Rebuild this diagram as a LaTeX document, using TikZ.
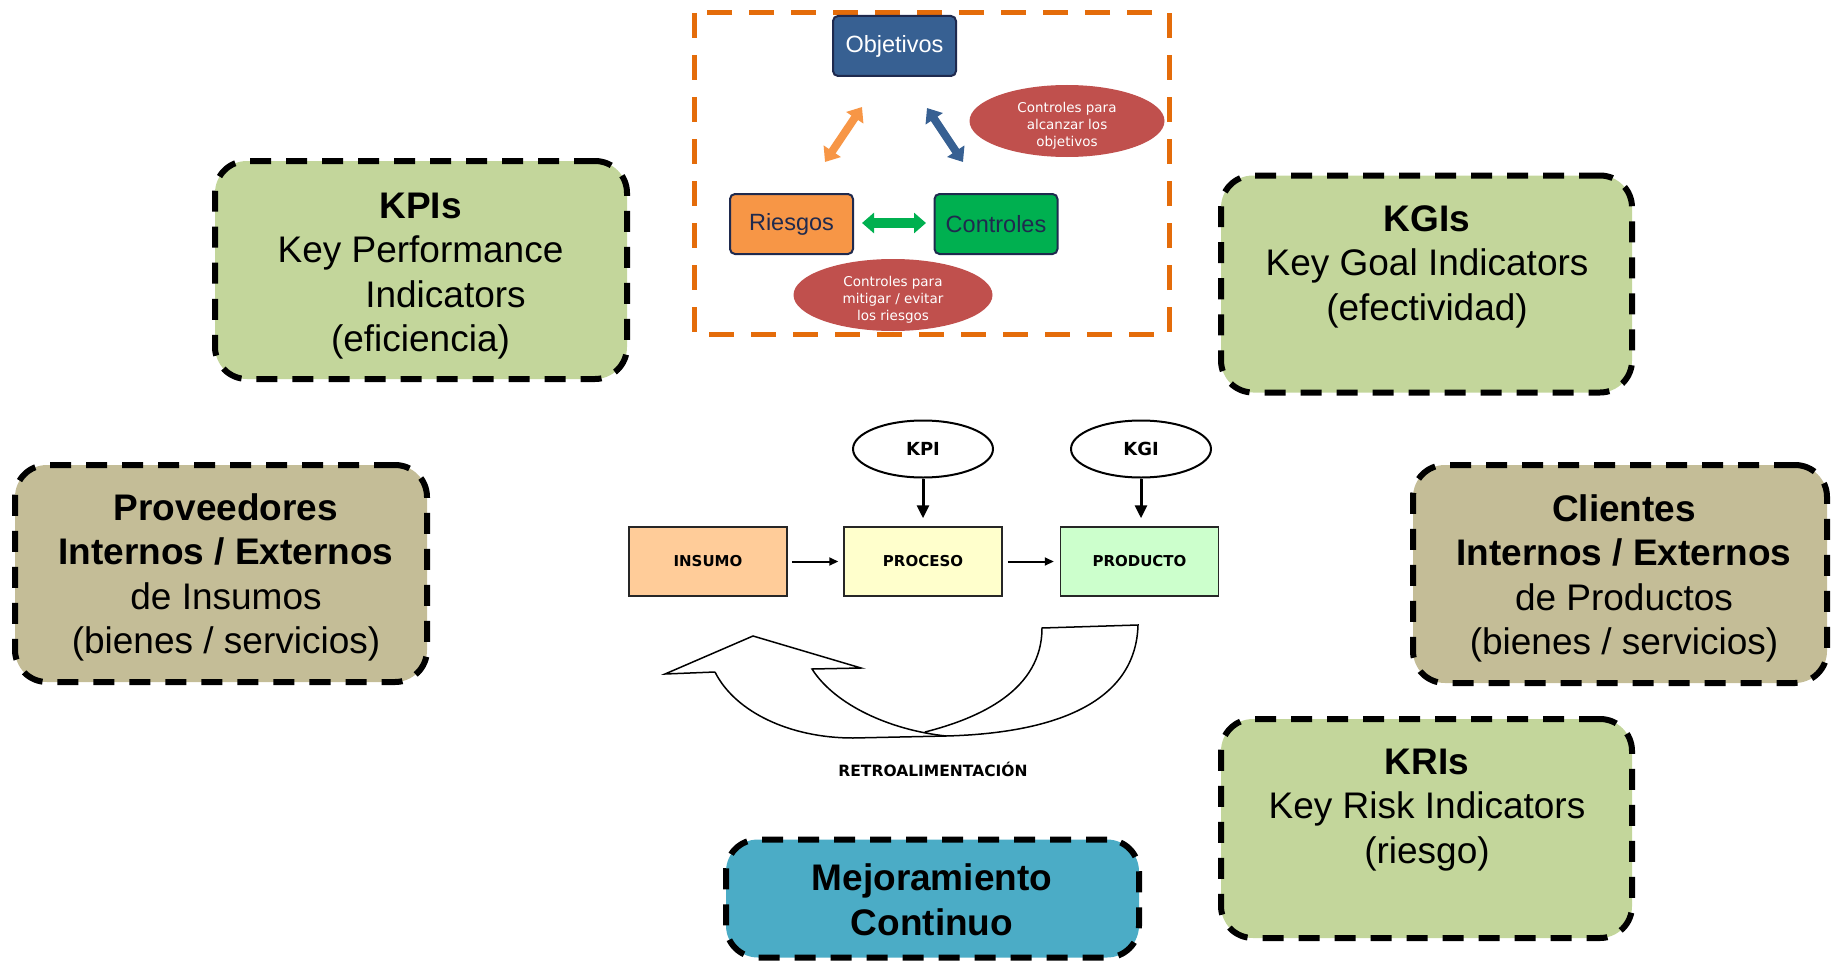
\documentclass[tikz,border=0pt]{standalone}
\usepackage{fontspec}
\setmainfont{Liberation Sans}
\newfontfamily\verdanalike{DejaVu Sans}
\usetikzlibrary{shapes.geometric,arrows.meta,calc}

\definecolor{kgreen}{HTML}{C3D69B}
\definecolor{ktan}{HTML}{C4BD97}
\definecolor{kteal}{HTML}{4BACC6}
\definecolor{frameorange}{HTML}{E46C0A}
\definecolor{objblue}{HTML}{376092}
\definecolor{riskorange}{HTML}{F79646}
\definecolor{ctrlgreen}{HTML}{00B050}
\definecolor{notered}{HTML}{C0504D}
\definecolor{navy}{HTML}{1F2A4E}
\definecolor{insumofill}{HTML}{FFCC99}
\definecolor{procesofill}{HTML}{FFFFCC}
\definecolor{productofill}{HTML}{CCFFCC}

\begin{document}
\begin{tikzpicture}[x=1pt,y=-1pt,
  bigbox/.style={draw=black, line width=6pt, dash pattern=on 21pt off 15pt,
    rounded corners=32pt, inner sep=0pt},
  bigtext/.style={align=center, inner sep=0pt, font=\fontsize{37}{44.5}\selectfont},
  tribox/.style={draw=navy, line width=2pt, rounded corners=5pt, inner sep=0pt,
    minimum width=123pt, minimum height=60pt, font=\fontsize{23.5}{28}\selectfont},
  note/.style={ellipse, fill=notered, inner sep=0pt},
  notetext/.style={text=white, inner sep=0pt, align=center,
    font=\verdanalike\fontsize{13.5}{17}\selectfont},
  pbox/.style={draw=black!85, line width=1.5pt, minimum width=158pt, minimum height=69pt,
    inner sep=0pt, font=\verdanalike\bfseries\fontsize{15}{18}\selectfont},
  pell/.style={ellipse, draw=black, line width=2pt, fill=white, minimum width=140pt,
    minimum height=57pt, inner sep=0pt, font=\verdanalike\bfseries\fontsize{18}{21}\selectfont},
  downarrow/.style={line width=3pt, -{Triangle[width=12pt,length=13pt]}},
  flowarrow/.style={line width=2pt, -{Triangle[width=8pt,length=9pt]}},
  fbarrow/.style={draw=black, line width=1.5pt, line join=miter}
]
\useasboundingbox (0,0) rectangle (1835,963);

% ---------- outer indicator boxes ----------
\node[bigbox, fill=kgreen, minimum width=412pt, minimum height=218pt] (kpis) at (421,270) {};
\node[bigtext] (kpis-t) at (420.5,275.85)
  {\strut\textbf{KPIs}\\\strut Key Performance\\\strut\hspace*{50pt}Indicators\\\strut(eficiencia)};

\node[bigbox, fill=kgreen, minimum width=411pt, minimum height=217pt] (kgis) at (1426.5,284) {};
\node[bigtext] (kgis-t) at (1427,266.6)
  {\strut\textbf{KGIs}\\\strut Key Goal Indicators\\\strut(efectividad)};

\node[bigbox, fill=ktan, minimum width=412pt, minimum height=217pt] (prov) at (221,573.5) {};
\node[bigtext] (prov-t) at (226,577.85)
  {\strut\textbf{Proveedores}\\\strut\textbf{Internos / Externos}\\\strut de Insumos\\\strut(bienes / servicios)};

\node[bigbox, fill=ktan, minimum width=414pt, minimum height=218pt] (cli) at (1620,574) {};
\node[bigtext] (cli-t) at (1624,578.85)
  {\strut\textbf{Clientes}\\\strut\textbf{Internos / Externos}\\\strut de Productos\\\strut(bienes / servicios)};

\node[bigbox, fill=kgreen, minimum width=411pt, minimum height=219pt] (kris) at (1426.5,828.5) {};
\node[bigtext] (kris-t) at (1427,809.6)
  {\strut\textbf{KRIs}\\\strut Key Risk Indicators\\\strut(riesgo)};

\node[bigbox, fill=kteal, minimum width=413pt, minimum height=118pt] (mejora) at (932.5,898.5) {};
\node[bigtext] (mejora-t) at (932,903.85)
  {\strut\textbf{Mejoramiento}\\\strut\textbf{Continuo}};

% ---------- objectives / risks / controls triangle ----------
\draw[frameorange, line width=5pt, dash pattern=on 25pt off 17pt] (694,13) rectangle (1169,334);

\node[tribox, fill=objblue, text=white] (obj) at (894.5,46) {\raisebox{-1.5pt}{Objetivos}};
\node[tribox, fill=riskorange, text=navy] (ries) at (791.5,224) {Riesgos};
\node[tribox, fill=ctrlgreen, text=navy] (ctrl) at (996,224) {Controles};

\node[note, minimum width=195pt, minimum height=72pt] (note-obj) at (1067,121) {};
\node[notetext] (note-obj-t) at (1067,125.5) {Controles para\\alcanzar los\\objetivos};
\node[note, minimum width=199pt, minimum height=72pt] (note-ries) at (893,295) {};
\node[notetext] (note-ries-t) at (893,300) {Controles para\\mitigar / evitar\\los riesgos};

\coordinate (ro-a) at (825,162);
\coordinate (ro-b) at (862,107);
\coordinate (oc-a) at (927,108);
\coordinate (oc-b) at (963,162);
\coordinate (rc-a) at (862,223);
\coordinate (rc-b) at (926,223);
\draw[riskorange, line width=8pt, {Triangle[width=20pt,length=13pt]}-{Triangle[width=20pt,length=13pt]}] (ro-a) -- (ro-b);
\draw[objblue, line width=8pt, {Triangle[width=20pt,length=13pt]}-{Triangle[width=20pt,length=13pt]}] (oc-a) -- (oc-b);
\draw[ctrlgreen, line width=10pt, {Triangle[width=20pt,length=12pt]}-{Triangle[width=20pt,length=12pt]}] (rc-a) -- (rc-b);

% ---------- process chain ----------
\node[pbox, fill=insumofill] (insumo) at (708,561.5) {INSUMO};
\node[pbox, fill=procesofill] (proceso) at (923,561.5) {PROCESO};
\node[pbox, fill=productofill] (producto) at (1139.5,561.5) {\raisebox{-1.5pt}{PRODUCTO}};

\node[pell] (kpiE) at (923,449) {KPI};
\node[pell] (kgiE) at (1141,449) {KGI};

\draw[downarrow, shorten >=8pt] (kpiE) -- (kpiE |- proceso.north);
\draw[downarrow, shorten >=8pt] (kgiE) -- (kgiE |- producto.north);
\draw[flowarrow, shorten <=4pt, shorten >=5pt] (insumo) -- (proceso);
\draw[flowarrow, shorten <=5pt, shorten >=6pt] (proceso) -- (producto);

% ---------- feedback curved arrow ----------
\draw[fbarrow] (715,672) -- (665,674) -- (753,636) -- (861,668) -- (812,669)
  .. controls (835,705) and (890,730) .. (946,736)
  .. controls (1060,733) and (1136,700) .. (1138,625)
  -- (1042,628)
  .. controls (1042,690) and (980,718) .. (925,732);
\draw[fbarrow] (715,672) .. controls (735,712) and (790,738) .. (853,738) -- (946,736);

\node[font=\verdanalike\bfseries\fontsize{15.5}{18}\selectfont, inner sep=0pt] (retro) at (933,769)
  {RETROALIMENTACIÓN};

\end{tikzpicture}
\end{document}
